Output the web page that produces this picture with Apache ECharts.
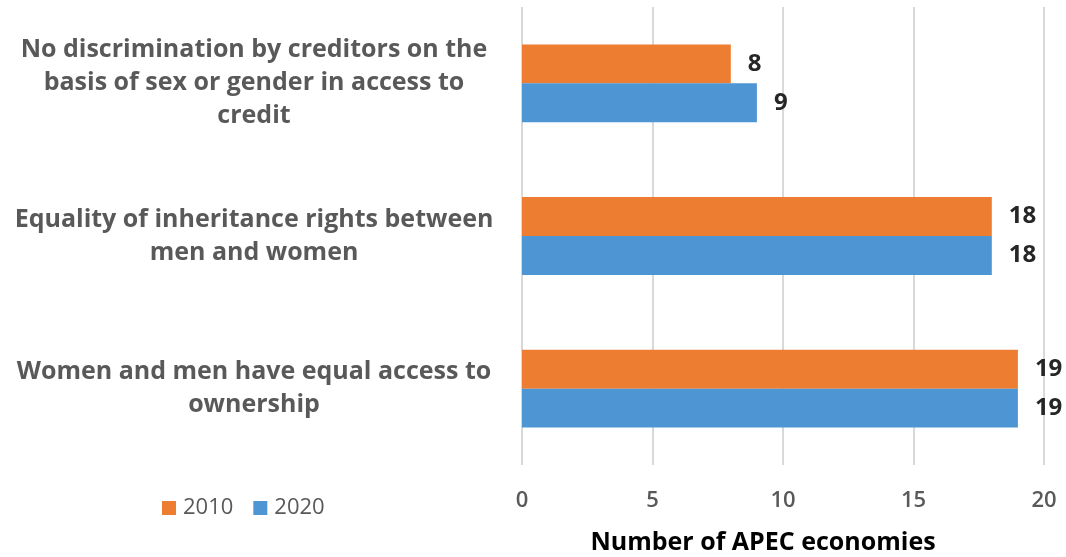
<!DOCTYPE html>
<html>
<head>
<meta charset="utf-8">
<script src="https://cdn.jsdelivr.net/npm/echarts@6/dist/echarts.min.js"></script>
<style>
  html, body { margin: 0; padding: 0; background: #fff; }
  #chart { width: 1066px; height: 557px; }
</style>
</head>
<body>
<div id="chart"></div>
<script>
// Categories listed bottom to top (ECharts category y axis starts at the bottom)
const categories = [
  'Women and men have equal access to\nownership',
  'Equality of inheritance rights between\nmen and women',
  'No discrimination by creditors on the\nbasis of sex or gender in access to\ncredit'
];
const seriesNames = ['2010', '2020'];
const values2010 = [19, 18, 8];
const values2020 = [19, 18, 9];
const xTicks = [0, 5, 10, 15, 20];

const face = '"Open Sans", "Noto Sans", sans-serif';

const chart = echarts.init(document.getElementById('chart'), null, { renderer: 'canvas' });

const valueLabel = {
  show: true,
  position: 'right',
  distance: 17,
  fontFamily: face,
  fontWeight: 'bold',
  fontSize: 24,
  color: '#262626'
};

chart.setOption({
  animation: false,
  color: ['#ED7D31', '#4E95D4'],
  grid: {
    left: 522, right: 22, top: 7, bottom: 92,
    containLabel: false,
    outerBoundsMode: 'none'
  },
  legend: {
    data: seriesNames,
    left: 157,
    top: 492,
    itemWidth: 14,
    itemHeight: 14,
    itemGap: 20,
    icon: 'rect',
    textStyle: { fontFamily: face, fontSize: 22, color: '#595959', padding: [0, 0, 0, 2] }
  },
  xAxis: {
    type: 'value',
    min: xTicks[0],
    max: xTicks[xTicks.length - 1],
    interval: 5,
    axisLine: { show: false },
    axisTick: { show: false },
    splitLine: { show: true, lineStyle: { color: '#d9d9d9', width: 2 } },
    axisLabel: { fontFamily: face, fontWeight: 600, fontSize: 22, color: '#595959', margin: 25 },
    name: 'Number of APEC economies',
    nameLocation: 'middle',
    nameGap: 65,
    nameTextStyle: {
      fontFamily: face, fontWeight: 'bold', fontSize: 25, color: '#000',
      padding: [0, 40, 0, 0]
    }
  },
  yAxis: {
    type: 'category',
    data: categories,
    axisLine: { show: false },
    axisTick: { show: false },
    axisLabel: {
      fontFamily: face,
      fontWeight: 'bold',
      fontSize: 25,
      lineHeight: 33,
      color: '#595959',
      align: 'center',
      margin: 268,
      padding: [3, 0, 0, 0]
    }
  },
  series: [
    {
      name: seriesNames[0],
      type: 'bar',
      data: values2010,
      barGap: '0%',
      barCategoryGap: '49%',
      label: valueLabel
    },
    {
      name: seriesNames[1],
      type: 'bar',
      data: values2020,
      barGap: '0%',
      barCategoryGap: '49%',
      label: valueLabel
    }
  ]
});
</script>
</body>
</html>
